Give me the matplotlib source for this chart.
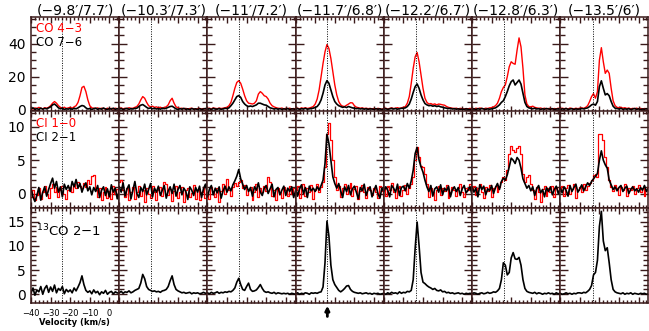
import numpy as np
import matplotlib.pyplot as plt

plt.rcParams['font.family'] = ['DejaVu Sans']

# velocity channels, km/s
velocity = np.arange(-40, 6)

offsets = ["(−9.8′/7.7′)", "(−10.3′/7.3′)", "(−11′/7.2′)", "(−11.7′/6.8′)",
           "(−12.2′/6.7′)", "(−12.8′/6.3′)", "(−13.5′/6′)"]
v_ref = [-24.0, -24.0, -23.9, -23.8, -23.6, -23.5, -23.1]

co43 = [
    [1.0, 0.5, 1.2, 0.8, 1.5, 1.0, 0.6, 1.3, 1.0, 1.5, 2.5, 4.0, 5.0, 4.0, 2.5, 1.5, 1.0, 1.6, 0.8, 1.2,
     1.5, 1.0, 1.8, 2.5, 4.5, 8.5, 13.5, 14.2, 11.0, 6.0, 2.5, 1.2, 1.0, 0.8, 1.2, 0.6, 1.0, 0.8, 0.5, 1.0,
     0.6, 0.9, 0.5, 1.0, 0.7, 0.8],
    [0.8, 1.2, 0.6, 1.0, 0.7, 1.3, 0.9, 1.0, 1.5, 2.0, 3.5, 6.0, 8.0, 7.0, 4.5, 2.5, 1.8, 2.2, 1.5, 1.8,
     1.2, 1.6, 1.0, 1.5, 1.8, 3.0, 5.5, 7.0, 4.0, 1.8, 1.2, 0.8, 1.0, 0.6, 0.9, 0.5, 0.8, 1.0, 0.6, 0.4,
     0.7, 0.9, 0.5, 0.8, 0.6, 0.7],
    [0.8, 1.0, 0.6, 1.2, 0.9, 0.7, 1.1, 0.8, 1.0, 1.3, 1.5, 2.5, 4.5, 8.5, 13.0, 16.5, 17.6, 16.0, 12.5, 8.5,
     5.5, 4.0, 3.8, 3.5, 4.0, 5.5, 9.5, 11.0, 10.0, 8.5, 8.0, 6.5, 4.0, 2.5, 1.8, 1.3, 1.0, 0.8, 1.1, 0.6,
     0.9, 0.7, 1.0, 0.5, 0.8, 0.6],
    [0.8, 1.0, 0.6, 1.2, 0.9, 1.3, 0.8, 1.1, 1.5, 2.0, 3.5, 6.5, 12.0, 20.0, 28.0, 35.0, 39.4, 37.0, 31.0, 23.0,
     15.0, 9.0, 5.0, 3.0, 2.2, 2.0, 2.8, 3.5, 4.3, 4.2, 2.5, 1.6, 1.3, 1.0, 1.2, 0.8, 1.0, 0.7, 0.9, 0.6,
     0.8, 0.5, 0.9, 0.7, 0.4, 0.8],
    [0.7, 1.0, 0.5, 0.9, 1.2, 0.8, 1.0, 1.3, 0.9, 1.2, 1.5, 2.0, 4.0, 8.0, 16.0, 25.0, 32.0, 34.6, 29.0, 21.0,
     13.0, 7.0, 4.5, 3.5, 3.8, 3.2, 3.6, 3.0, 3.5, 3.3, 3.0, 2.8, 2.0, 1.5, 1.2, 1.0, 0.8, 1.0, 0.6, 0.9,
     0.7, 0.5, 0.8, 0.6, 0.9, 0.5],
    [0.8, 0.5, 1.0, 0.7, 1.1, 0.9, 0.6, 1.0, 0.8, 1.2, 1.3, 1.8, 2.5, 4.0, 7.0, 11.0, 13.5, 15.0, 20.0, 26.0,
     29.0, 28.0, 27.5, 36.0, 43.4, 38.0, 25.0, 9.0, 3.5, 2.0, 1.8, 2.2, 1.5, 1.2, 0.9, 1.1, 0.7, 1.0, 0.6, 0.8,
     0.9, 0.5, 0.8, 0.6, 1.0, 0.7],
    [0.6, 1.0, 0.7, 0.9, 0.5, 1.1, 0.8, 0.6, 1.0, 0.7, 1.0, 1.2, 0.9, 1.5, 2.5, 5.0, 8.0, 9.8, 7.0, 11.0,
     30.0, 37.5, 29.0, 22.0, 24.0, 22.0, 13.0, 5.5, 2.5, 1.5, 1.2, 1.6, 1.0, 1.3, 0.8, 1.1, 0.6, 0.9, 0.7, 1.0,
     0.6, 0.9, 0.5, 0.8, 0.7, 0.6],
]

co76 = [
    [0.5, 1.2, 0.3, 0.8, 0.2, 1.0, 0.4, 0.9, 0.6, 1.2, 1.8, 3.0, 3.5, 2.5, 1.2, 0.6, 1.0, 0.2, 0.7, 0.4,
     0.9, 0.3, 1.0, 0.6, 1.2, 2.0, 2.6, 2.3, 1.2, 0.5, 0.8, 0.2, 0.7, 1.0, 0.3, 0.8, 0.4, 1.1, 0.5, 0.2,
     0.8, 0.4, 1.0, 0.3, 0.7, 0.5],
    [0.4, 0.8, 0.2, 0.6, 0.9, 0.3, 0.7, 0.5, 0.9, 1.0, 2.0, 2.8, 3.2, 2.4, 1.5, 0.8, 1.2, 0.6, 1.0, 0.5,
     0.8, 0.4, 1.0, 0.7, 1.0, 1.5, 2.0, 2.2, 1.4, 0.6, 0.2, 0.7, 0.4, 0.9, 0.3, 0.6, 0.1, 0.8, 0.4, 0.6,
     0.2, 0.7, 0.3, 0.5, 0.8, 0.4],
    [0.3, 0.7, 0.2, 0.9, 0.5, 0.4, 0.8, 0.3, 0.6, 0.9, 0.8, 1.2, 2.5, 4.0, 6.0, 8.0, 8.6, 7.5, 5.0, 3.5,
     2.5, 2.0, 2.3, 2.0, 2.5, 3.0, 4.0, 4.0, 3.5, 3.0, 2.8, 2.0, 1.2, 0.9, 0.5, 0.8, 0.4, 0.7, 0.3, 0.6,
     0.4, 0.8, 0.2, 0.6, 0.5, 0.3],
    [0.4, 0.8, 0.3, 0.7, 0.5, 0.9, 0.4, 0.6, 0.8, 1.0, 1.5, 2.0, 3.5, 6.0, 10.0, 15.0, 17.6, 16.0, 12.0, 8.0,
     5.0, 3.5, 2.5, 2.0, 1.5, 1.8, 1.4, 2.0, 1.6, 1.2, 1.0, 0.7, 0.9, 0.5, 0.8, 0.4, 0.7, 0.3, 0.6, 0.5,
     0.3, 0.7, 0.4, 0.6, 0.2, 0.5],
    [0.4, 0.7, 0.3, 0.6, 0.9, 0.5, 0.8, 0.4, 0.7, 0.9, 1.0, 1.2, 2.0, 3.5, 6.5, 10.5, 14.0, 15.6, 13.0, 9.0,
     6.0, 3.8, 3.0, 2.5, 2.7, 2.2, 2.5, 2.0, 2.3, 1.8, 1.6, 1.2, 1.0, 0.8, 0.9, 0.5, 0.7, 0.4, 0.6, 0.3,
     0.5, 0.3, 0.6, 0.4, 0.2, 0.5],
    [0.3, 0.6, 0.2, 0.7, 0.4, 0.8, 0.5, 0.3, 0.6, 0.4, 0.6, 0.9, 1.2, 2.0, 3.0, 4.5, 5.5, 8.0, 11.0, 14.5,
     17.0, 18.0, 15.0, 16.5, 18.0, 15.5, 10.0, 4.5, 2.0, 1.2, 0.9, 0.6, 1.0, 0.5, 0.7, 0.3, 0.6, 0.4, 0.8, 0.5,
     0.4, 0.7, 0.3, 0.5, 0.6, 0.4],
    [0.2, 0.6, 0.4, 0.8, 0.3, 0.5, 0.7, 0.2, 0.6, 0.4, 0.5, 0.8, 0.6, 0.9, 1.2, 2.0, 3.0, 3.5, 2.8, 5.0,
     14.0, 17.5, 13.0, 9.0, 9.8, 8.5, 5.0, 2.2, 1.0, 0.8, 0.5, 0.9, 0.3, 0.6, 0.4, 0.7, 0.2, 0.5, 0.8, 0.3,
     0.6, 0.2, 0.5, 0.4, 0.7, 0.3],
]

ci10 = [
    [-0.5, 0.5, -1.0, -0.2, 0.8, -0.8, 0.3, 1.2, 0.0, -0.6, 0.8, 1.5, 0.2, 1.0, -0.5, 0.6, 1.2, 0.0, -0.8, 0.5,
     1.0, 0.3, 1.5, 0.8, 1.8, 1.2, 0.9, 1.6, 1.0, 2.0, 1.4, 2.6, 2.8, 0.5, -0.5, 0.8, -1.0, 0.2, 1.0, -0.6,
     0.4, -0.8, 1.2, 0.0, 0.7, -0.4],
    [1.8, 2.0, 0.5, -0.5, 0.8, -1.0, 0.3, 1.0, -0.8, 0.2, 1.2, -0.3, 0.6, -1.2, 0.9, 0.0, -0.6, 1.1, 0.3, -0.9,
     0.5, 1.0, -0.4, 1.8, 1.5, -0.2, 0.7, -1.1, 0.4, 1.2, -0.7, 0.3, 1.0, -1.3, 0.5, 0.9, -0.5, 0.1, 1.3, -0.8,
     0.6, -1.0, 0.2, 1.0, -0.6, 0.8],
    [0.3, -0.8, 1.0, 0.2, -0.5, 0.9, -1.2, 0.4, 1.5, 0.0, 2.2, 0.5, -0.4, 1.0, 1.6, 1.2, 1.8, 2.0, 0.8, 1.3,
     -0.2, 0.6, 1.0, -0.9, 0.3, 1.4, -0.5, 0.8, 0.2, 1.1, 0.4, 2.5, 1.8, -0.3, 0.6, -1.0, 0.9, 0.2, -0.6, 1.0,
     0.5, -0.4, 1.2, 0.0, 0.8, -0.7],
    [0.5, 1.2, -0.6, 0.8, 1.5, -0.3, 0.9, 0.2, 1.3, -0.8, 0.6, 1.4, 0.2, 1.0, 1.8, 4.0, 9.0, 10.5, 8.0, 5.0,
     2.5, 0.5, 1.2, -0.5, 0.8, 1.5, 0.0, 0.9, 1.6, -0.4, 0.7, 1.1, -0.8, 0.4, 1.3, 0.2, -0.6, 1.0, 0.5, -0.2,
     0.9, 0.3, -0.7, 1.2, 0.4, -0.3],
    [0.8, -0.3, 1.2, 0.5, 1.6, 0.2, -0.7, 0.9, 1.1, -0.4, 0.6, 1.3, 0.0, 0.9, 1.5, 2.5, 5.0, 7.0, 5.5, 4.2,
     4.0, 3.0, 1.5, -0.5, 0.8, 0.3, -1.0, 0.6, 1.2, -0.2, 0.9, 0.4, 1.3, -0.6, 0.2, 1.0, 0.5, -0.4, 0.8, 1.4,
     0.2, -0.5, 0.9, 0.6, 1.5, 0.3],
    [0.6, 1.2, -0.2, 0.9, 1.5, 0.3, -0.6, 1.0, 0.4, 1.3, -0.5, 0.8, 1.2, 0.2, 1.0, 1.8, 2.5, 2.0, 3.5, 6.0,
     7.2, 6.5, 6.3, 6.8, 7.2, 6.0, 3.0, 1.8, 2.5, 2.8, 1.5, 0.6, -0.8, 1.0, 0.3, -1.2, 0.7, 1.2, -0.4, 0.9,
     0.2, 1.1, -0.5, 0.8, 0.4, 1.0],
    [0.4, 1.1, -0.3, 0.8, 1.3, 0.0, 0.7, 1.5, -0.6, 0.5, 1.0, 0.3, 1.4, 0.6, 1.2, 1.6, 2.0, 2.8, 3.0, 2.5,
     8.9, 8.9, 8.0, 5.5, 4.0, 2.0, 1.0, 0.4, 1.3, 0.8, -0.2, 1.0, 0.5, 1.4, -0.4, 0.9, 0.6, 1.2, 0.0, 0.8,
     1.3, 0.2, 0.9, -0.3, 0.6, 1.0],
]

ci21 = [
    [0.8, -0.5, -1.2, -0.3, 0.9, -1.0, 0.2, 1.0, -0.4, 0.6, 1.5, 2.3, 0.8, 1.8, 0.2, 1.0, -0.5, 1.4, 0.6, 1.2,
     0.3, 1.8, 1.0, 2.1, 0.8, 1.5, 0.2, 1.1, 1.6, 0.4, 1.0, -0.2, 0.9, 0.3, 1.2, -0.6, 0.5, 1.0, -0.3, 0.7,
     -0.5, 1.3, 0.2, 0.8, -0.8, 0.4],
    [1.0, 0.2, 1.6, -0.4, 0.7, 1.3, -0.8, 0.5, 1.8, 0.0, -0.6, 0.9, 0.3, 1.4, -0.2, 0.6, 1.5, -0.5, 0.8, 0.2,
     1.1, -0.3, 0.5, 1.2, -0.7, 0.4, 1.0, 0.0, 1.4, -0.4, 0.6, 1.2, -0.2, 0.8, 0.3, -0.9, 1.0, 0.5, -0.3, 0.9,
     0.2, 1.1, -0.6, 0.7, 1.4, 0.0],
    [-0.5, 0.6, 1.2, -0.2, 0.8, 0.1, 1.0, -0.7, 0.4, 1.1, 0.2, 1.0, 0.4, 1.3, 1.9, 2.6, 3.6, 2.2, 1.4, 0.6,
     1.2, 0.3, 0.9, -0.4, 1.0, 0.5, 1.6, 0.2, -0.3, 0.8, 1.2, 0.0, 0.7, 1.4, -0.5, 0.6, 0.9, -0.2, 0.5, 1.1,
     -0.3, 0.8, 0.3, 1.0, -0.6, 0.4],
    [1.0, -0.4, 0.7, 1.3, 0.0, 0.9, -0.6, 1.1, 0.4, 0.8, 0.3, 1.0, 0.5, 1.2, 2.0, 4.5, 8.9, 7.5, 5.0, 2.5,
     1.5, 0.8, 1.5, 0.4, -0.6, 1.0, 0.3, 1.2, -0.2, 0.7, 1.1, 0.2, -0.8, 0.9, 0.4, 1.4, -0.3, 0.6, 1.0, -0.5,
     0.5, 1.2, 0.0, -0.7, 0.8, 0.3],
    [0.3, 1.0, 0.5, -0.5, 1.2, 0.8, 0.2, 1.4, -0.3, 0.9, 1.1, 0.4, 1.5, 0.8, 1.9, 3.5, 6.0, 6.9, 5.0, 4.0,
     3.2, 2.0, 1.0, 0.3, 1.2, -0.4, 0.7, 1.0, 0.2, 1.3, -0.2, 0.8, 0.4, 1.1, -0.5, 0.6, 1.0, 0.3, 0.9, -0.3,
     0.7, 1.2, 0.1, 0.5, 1.0, -0.2],
    [1.0, 0.2, 0.8, -0.5, 1.3, 0.6, 1.1, -0.2, 0.7, 0.4, 1.2, 0.0, 0.9, 1.5, 0.6, 1.8, 2.3, 2.0, 2.8, 4.0,
     5.3, 5.0, 4.5, 5.4, 5.0, 3.8, 2.2, 1.5, 0.8, 1.2, 0.4, 1.0, -0.3, 0.7, 1.2, 0.1, 0.6, -0.5, 0.9, 0.3,
     1.0, -0.2, 0.6, 1.1, 0.0, 0.7],
    [0.8, 0.1, 1.0, 0.5, -0.4, 1.2, 0.3, 0.9, 1.4, 0.2, 0.7, 1.3, 0.4, 1.0, 1.6, 1.2, 1.8, 2.2, 2.6, 3.0,
     5.0, 6.4, 5.0, 4.3, 3.8, 2.0, 1.3, 0.6, 1.0, 0.4, 0.9, 1.2, 0.3, 0.8, 1.1, 0.0, 0.6, 1.0, 0.4, 0.7,
     0.2, 0.9, 0.5, 1.2, 0.3, 0.8],
]

co13 = [
    [0.2, 1.3, -0.2, 0.9, 0.5, 1.6, 0.0, 1.2, 1.8, 0.4, 1.5, 0.6, 1.9, 0.3, 1.2, 0.8, 1.6, 0.1, 1.0, 0.5,
     0.9, 0.3, 1.3, 0.7, 1.5, 2.4, 3.8, 2.0, 0.8, 0.4, 0.7, 0.1, 0.9, 0.3, 0.6, -0.1, 0.5, 0.2, 0.8, 0.0,
     0.4, 0.6, 0.1, 0.5, 0.3, 0.2],
    [0.3, 0.6, 0.2, 0.5, 0.4, 0.7, 0.3, 0.5, 0.8, 1.0, 1.2, 2.3, 4.1, 3.2, 1.6, 1.0, 0.8, 0.6, 0.7, 0.5,
     0.6, 0.4, 0.7, 0.8, 1.0, 1.6, 2.8, 3.8, 2.0, 1.0, 0.7, 0.5, 0.3, 0.4, 0.2, 0.3, 0.4, 0.1, 0.3, 0.2,
     0.3, 0.1, 0.2, 0.4, 0.2, 0.3],
    [0.3, 0.1, 0.4, 0.2, 0.3, 0.5, 0.2, 0.4, 0.3, 0.5, 0.4, 0.6, 0.5, 0.8, 1.3, 2.5, 3.3, 2.0, 1.0, 0.8,
     1.6, 2.3, 1.0, 0.6, 0.7, 0.9, 1.4, 2.0, 1.2, 0.6, 0.4, 0.5, 0.3, 0.2, 0.4, 0.1, 0.3, 0.2, 0.1, 0.2,
     0.1, 0.2, 0.0, 0.2, 0.1, 0.0],
    [0.1, 0.3, 0.0, 0.2, 0.1, 0.3, 0.2, 0.0, 0.3, 0.2, 0.3, 0.2, 0.4, 0.5, 1.5, 6.5, 15.1, 12.0, 6.0, 3.0,
     2.0, 1.4, 0.8, 0.5, 0.8, 1.2, 1.7, 1.8, 1.0, 0.6, 0.4, 0.3, 0.2, 0.3, 0.1, 0.2, 0.3, 0.1, 0.2, 0.0,
     0.2, 0.1, 0.2, 0.0, 0.1, 0.2],
    [0.2, 0.0, 0.3, 0.1, 0.4, 0.2, 0.3, 0.1, 0.5, 0.2, 0.4, 0.3, 0.6, 0.5, 0.8, 3.0, 9.5, 14.9, 10.0, 4.5,
     2.5, 2.2, 1.8, 1.5, 1.3, 1.0, 1.2, 0.8, 0.7, 0.9, 0.5, 0.6, 0.3, 0.4, 0.2, 0.3, 0.1, 0.2, 0.3, 0.1,
     0.2, 0.0, 0.2, 0.1, 0.2, 0.1],
    [0.1, 0.3, 0.2, 0.0, 0.2, 0.3, 0.1, 0.2, 0.4, 0.2, 0.3, 0.5, 0.4, 0.7, 1.2, 3.0, 6.5, 6.0, 4.0, 4.5,
     7.5, 8.6, 7.3, 7.2, 7.6, 6.0, 3.0, 1.2, 0.6, 0.4, 0.3, 0.2, 0.4, 0.1, 0.3, 0.2, 0.0, 0.2, 0.1, 0.3,
     0.1, 0.2, 0.0, 0.3, 0.1, 0.2],
    [0.2, 0.0, 0.1, 0.3, 0.1, 0.2, 0.0, 0.2, 0.1, 0.3, 0.3, 0.2, 0.4, 0.3, 0.6, 1.0, 1.8, 4.0, 4.5, 7.0,
     14.0, 17.1, 11.0, 9.0, 9.6, 6.5, 3.0, 1.0, 0.5, 0.3, 0.2, 0.1, 0.3, 0.0, 0.2, 0.1, 0.3, 0.0, 0.2, 0.1,
     0.0, 0.2, 0.1, 0.2, 0.0, 0.1],
]

frame = '#3a1a1a'
W, H = 649, 331
fig = plt.figure(figsize=(W / 100, H / 100), dpi=100)

x0, pw = 31, 88.2
rows = [(17, 111.5), (111.5, 207.5), (207.5, 303)]
ylims = [(-1, 56), (-2.1, 12.3), (-1.8, 17.9)]
ymajor = [[0, 20, 40], [0, 5, 10], [0, 5, 10, 15]]
yminor = [5, 1, 1]

for r in range(3):
    top, bot = rows[r]
    for c in range(7):
        ax = fig.add_axes([(x0 + c * pw) / W, 1 - bot / H, pw / W, (bot - top) / H])
        if r == 0:
            ax.plot(velocity, co43[c], color='red', lw=1.0)
            ax.plot(velocity, co76[c], color='black', lw=1.2)
            ax.set_title(offsets[c], fontsize=10, pad=2)
        elif r == 1:
            ax.step(velocity, ci10[c], where='mid', color='red', lw=0.9)
            ax.plot(velocity, ci21[c], color='black', lw=1.2)
        else:
            ax.plot(velocity, co13[c], color='black', lw=1.2)
        ax.axvline(v_ref[c], color='black', ls=(0, (1, 1.5)), lw=0.7)

        ax.set_xlim(-40, 5)
        ax.set_ylim(*ylims[r])
        ax.set_xticks([-40, -30, -20, -10, 0])
        ax.set_xticks(np.arange(-40, 6, 2), minor=True)
        ax.set_yticks(ymajor[r])
        ax.set_yticks(np.arange(0, ylims[r][1], yminor[r]), minor=True)
        ax.tick_params(which='both', direction='in', top=True, right=True,
                       color=frame, width=1.0)
        ax.tick_params(axis='y', which='major', length=6)
        ax.tick_params(axis='y', which='minor', length=3.5)
        ax.tick_params(axis='x', which='major', length=4)
        ax.tick_params(axis='x', which='minor', length=2.5)
        ax.tick_params(axis='y', labelsize=10, pad=4)
        ax.tick_params(axis='x', labelsize=6, pad=4)
        for s in ax.spines.values():
            s.set_color(frame)
            s.set_linewidth(1.1)
        if c != 0:
            ax.tick_params(labelleft=False)
        if not (r == 2 and c == 0):
            ax.tick_params(labelbottom=False)

        if c == 0:
            if r == 0:
                ax.text(0.055, 0.875, 'CO 4−3', color='red', fontsize=8.5,
                        transform=ax.transAxes, va='center')
                ax.text(0.055, 0.73, 'CO 7−6', color='black', fontsize=8.5,
                        transform=ax.transAxes, va='center')
            elif r == 1:
                ax.text(0.055, 0.875, 'CI 1−0', color='red', fontsize=8.5,
                        transform=ax.transAxes, va='center')
                ax.text(0.055, 0.73, 'CI 2−1', color='black', fontsize=8.5,
                        transform=ax.transAxes, va='center')
            else:
                ax.text(0.06, 0.75, '$^{13}$CO 2−1', color='black', fontsize=9.5,
                        transform=ax.transAxes, va='center')
        if r == 2 and c == 3:
            ax.annotate('', xy=(v_ref[c], 0.0), xytext=(v_ref[c], -0.17),
                        xycoords=('data', 'axes fraction'),
                        arrowprops=dict(arrowstyle='-|>', color='black', lw=2,
                                        mutation_scale=6),
                        annotation_clip=False)

fig.text(74 / W, 1 - 322.5 / H, 'Velocity (km/s)', ha='center', va='center',
         fontsize=6, fontweight='bold')

fig.savefig('out.png', dpi=100)
